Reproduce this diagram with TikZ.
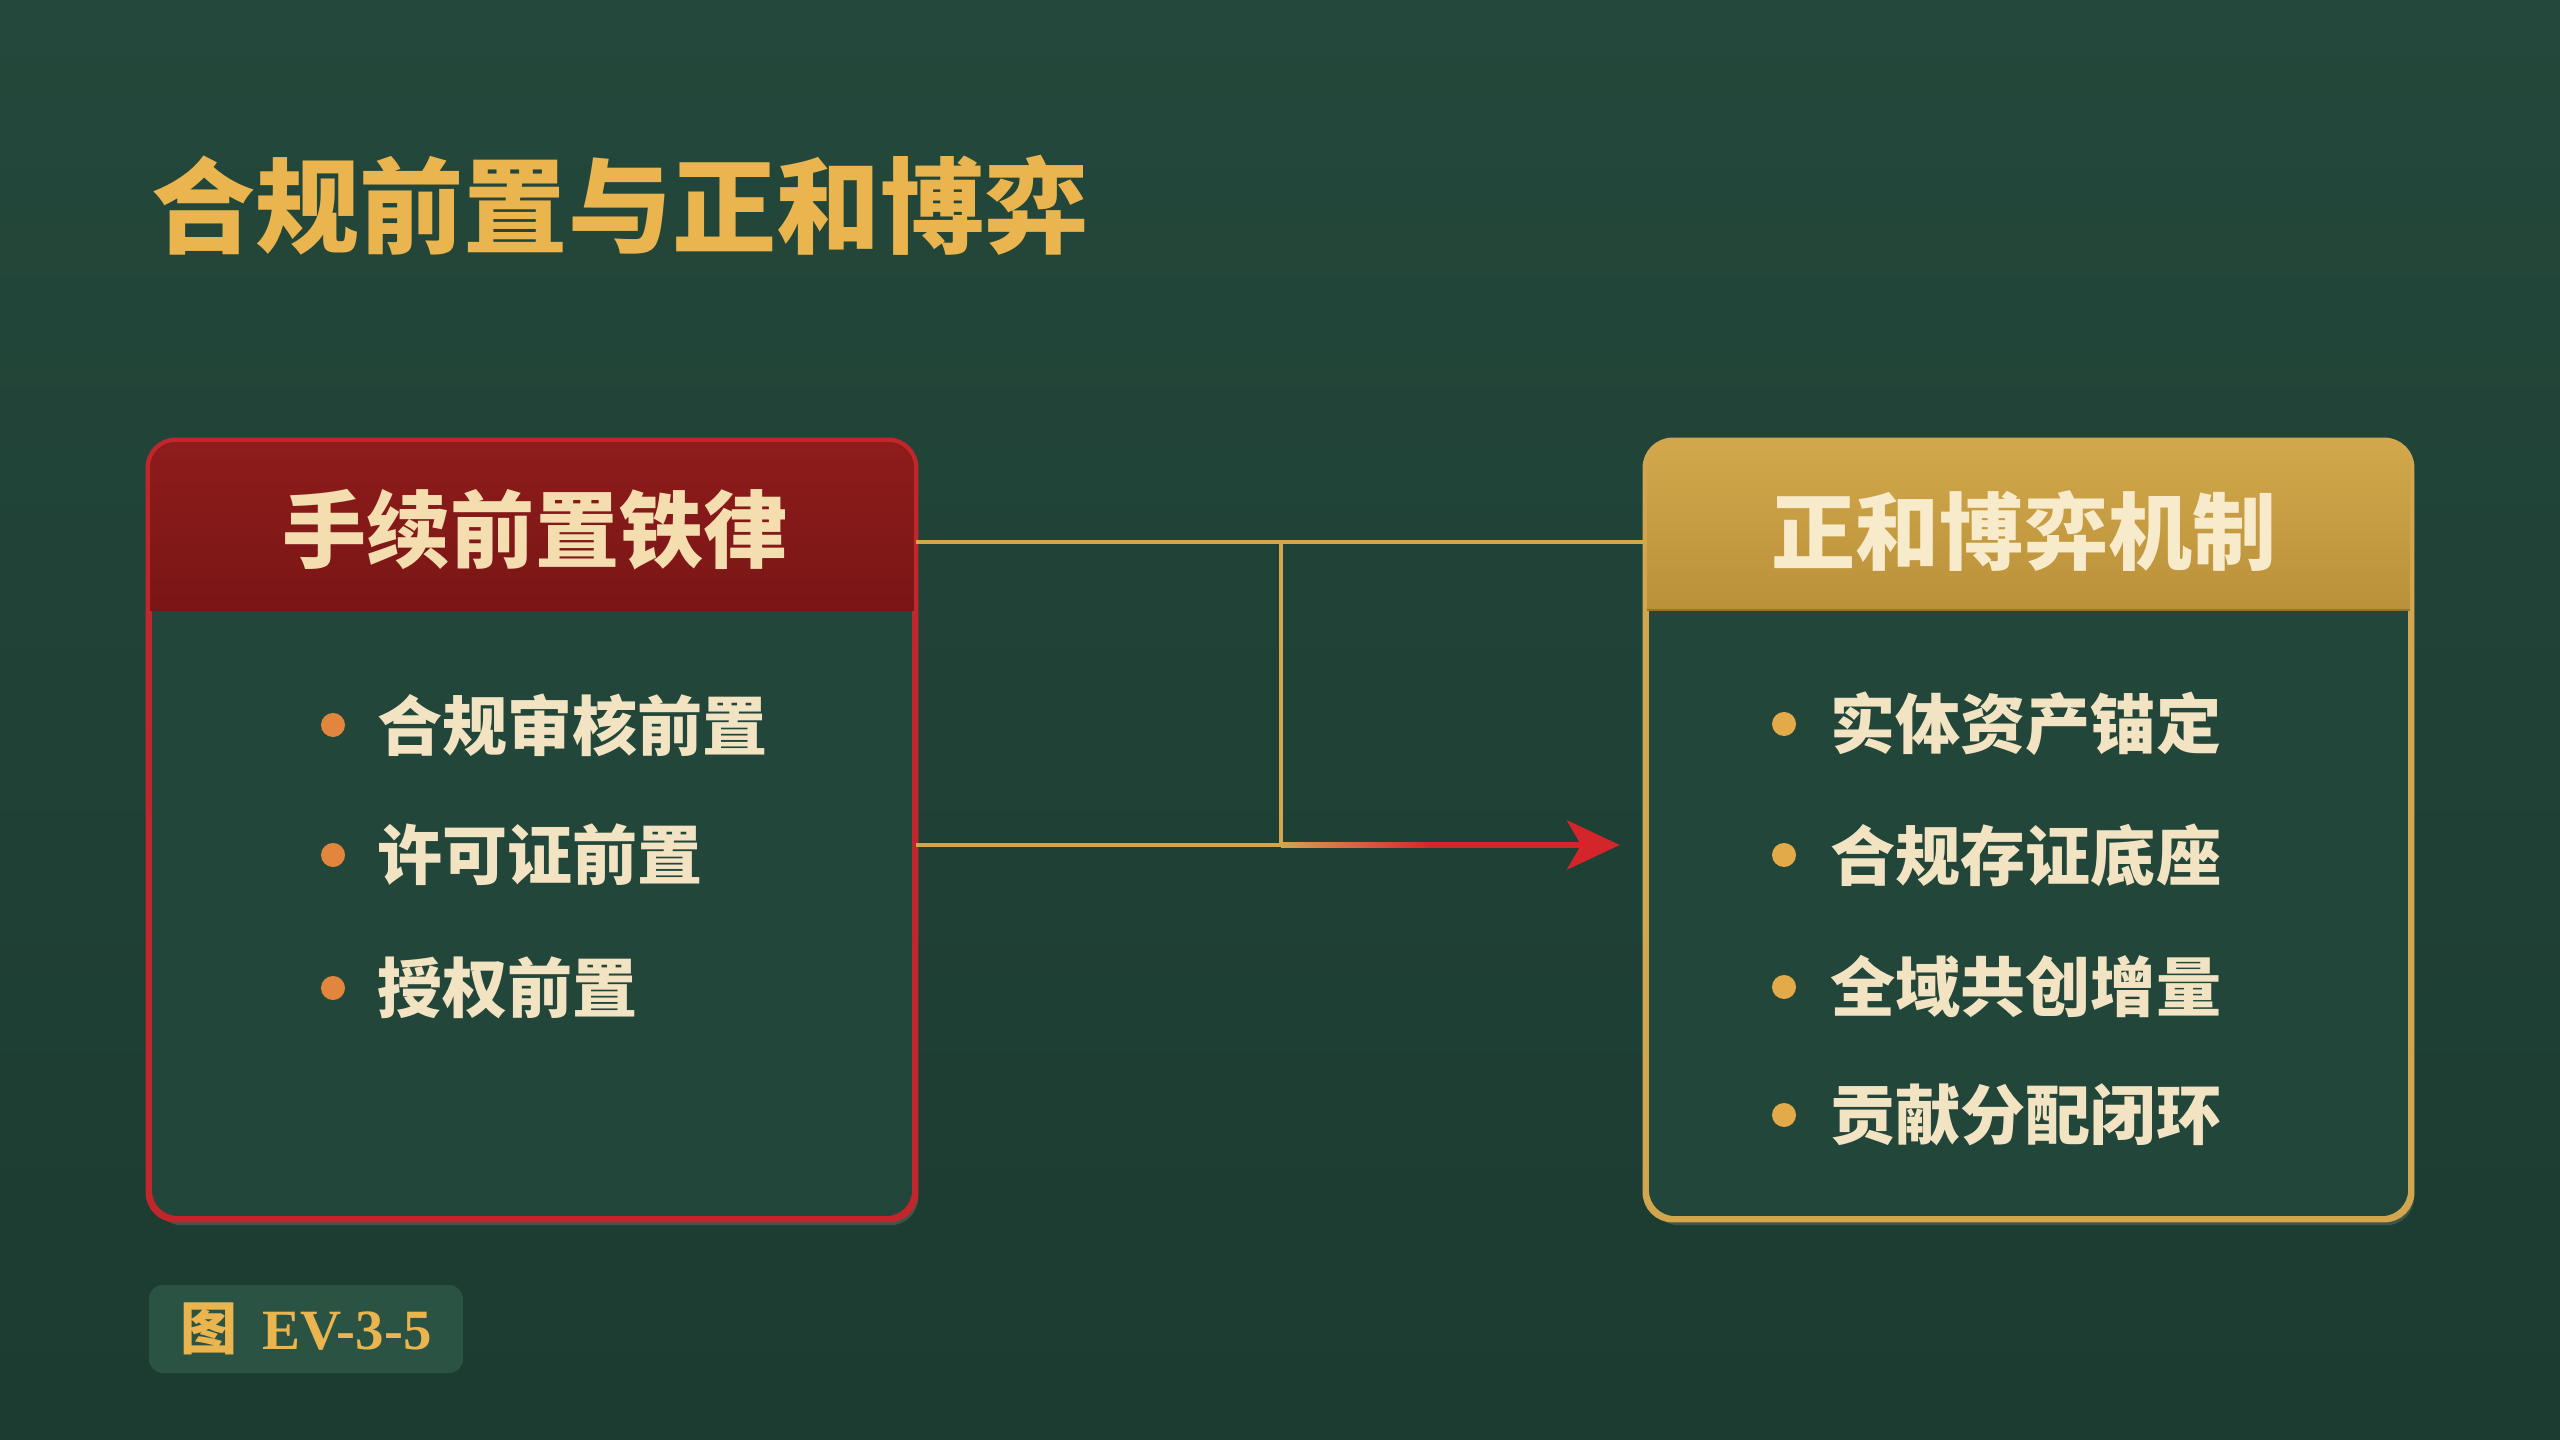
\documentclass[tikz,border=0pt]{standalone}
\usepackage{fontspec}
\newfontfamily\cjk{Noto Sans CJK SC}
\newfontfamily\serifb{Liberation Serif}
\usetikzlibrary{arrows.meta,calc,shadows}
\definecolor{bgA}{HTML}{24483B}
\definecolor{bgB}{HTML}{1C3B31}
\definecolor{bodyG}{HTML}{22463A}
\definecolor{redHead}{HTML}{8E1C1B}
\definecolor{redHeadB}{HTML}{7A1616}
\definecolor{redLine}{HTML}{C0262B}
\definecolor{goldHead}{HTML}{D2A84B}
\definecolor{goldHeadB}{HTML}{BA913A}
\definecolor{goldLine}{HTML}{D2A64C}
\definecolor{titleGold}{HTML}{EAB54E}
\definecolor{cream}{HTML}{F2E3C2}
\definecolor{headCream}{HTML}{F4DDAE}
\definecolor{headCreamR}{HTML}{F8EBCB}
\definecolor{dotOrange}{HTML}{E2863E}
\definecolor{dotGold}{HTML}{E2AA48}
\definecolor{capBox}{HTML}{2A5343}
\definecolor{arrowRed}{HTML}{D4262A}
\tikzset{
  panel/.style={rectangle, rounded corners=0.28cm, minimum width=7.64cm,
    minimum height=7.76cm, inner sep=0pt, line width=1.2pt,
    drop shadow={opacity=0.35, shadow xshift=0.04cm, shadow yshift=-0.07cm}},
  headtxt/.style={inner sep=0pt, font=\cjk\bfseries\fontsize{23.9pt}{26pt}\selectfont},
  titletxt/.style={inner sep=0pt, anchor=west, text=titleGold,
    font=\cjk\bfseries\fontsize{29.6pt}{32pt}\selectfont},
  itemtxt/.style={inner sep=0pt, anchor=west, text=cream,
    font=\cjk\bfseries\fontsize{18.5pt}{20pt}\selectfont},
  dotL/.style={circle, inner sep=0pt, minimum size=0.24cm, fill=dotOrange},
  dotR/.style={circle, inner sep=0pt, minimum size=0.24cm, fill=dotGold},
  goldwire/.style={draw=goldLine, line width=1.3pt},
  redarrow/.style={draw=arrowRed, line width=1.6pt,
    -{Stealth[length=15pt,width=14pt,inset=4pt]}},
  capbox/.style={rectangle, rounded corners=0.14cm, fill=capBox,
    minimum width=3.14cm, minimum height=0.88cm, inner sep=0pt,
    text=titleGold}
}
\begin{document}
\begin{tikzpicture}[x=0.01cm, y=-0.01cm]
\useasboundingbox (0,0) rectangle (2560,1440);
\shade[top color=bgA, bottom color=bgB] (0,0) rectangle (2560,1440);

% title
\node[titletxt] (title) at (151,205) {合规前置与正和博弈};

% left panel
\node[panel, draw=redLine, fill=bodyG] (L) at (532,830) {};
\begin{scope}
  \clip[rounded corners=0.28cm] (L.south west) rectangle (L.north east);
  \shade[top color=redHead, bottom color=redHeadB] (L.north west) rectangle ($(L.north east)+(0,170)$);
\end{scope}
\draw[redLine!60!black, line width=0.6pt] ($(L.north west)+(0,170)$) -- ($(L.north east)+(0,170)$);
\draw[redLine, line width=1.2pt, rounded corners=0.28cm] (L.south west) rectangle (L.north east);
\node[headtxt, text=headCream] (LH) at (535,530) {手续前置铁律};

% right panel
\node[panel, draw=goldLine, fill=bodyG, minimum width=7.63cm] (R) at (2028.5,830) {};
\begin{scope}
  \clip[rounded corners=0.28cm] (R.south west) rectangle (R.north east);
  \shade[top color=goldHead, bottom color=goldHeadB] (R.north west) rectangle ($(R.north east)+(0,170)$);
\end{scope}
\draw[goldLine!70!black, line width=0.6pt] ($(R.north west)+(0,170)$) -- ($(R.north east)+(0,170)$);
\draw[goldLine, line width=1.2pt, rounded corners=0.28cm] (R.south west) rectangle (R.north east);
\node[headtxt, text=headCreamR] (RH) at (2024,531) {正和博弈机制};

% left items
\node[dotL] (ld1) at (333,725) {};
\node[dotL] (ld2) at (333,855) {};
\node[dotL] (ld3) at (333,988) {};
\node[itemtxt] (l1) at (377,725) {合规审核前置};
\node[itemtxt] (l2) at (377,855) {许可证前置};
\node[itemtxt] (l3) at (377,988) {授权前置};

% right items
\node[dotR] (rd1) at (1784,724) {};
\node[dotR] (rd2) at (1784,855) {};
\node[dotR] (rd3) at (1784,987) {};
\node[dotR] (rd4) at (1784,1115) {};
\node[itemtxt] (r1) at (1830,724) {实体资产锚定};
\node[itemtxt] (r2) at (1830,855) {合规存证底座};
\node[itemtxt] (r3) at (1830,987) {全域共创增量};
\node[itemtxt] (r4) at (1830,1115) {贡献分配闭环};

% connectors
\coordinate (J1) at (1281,542);
\coordinate (J2) at (1281,845);
\coordinate (T) at ($(R.west |- J2)+(-25,0)$);
\draw[goldwire] (L.east |- J1) -- (J1) -- (R.west |- J1);
\draw[goldwire] (J1) -- (J2);
\draw[redarrow] (J2) -- (T);
\shade[left color=goldLine, right color=arrowRed] ($(J2)+(0,-2.8)$) rectangle ($(J2)+(150,2.8)$);
\draw[goldwire] (L.east |- J2) -- (J2);

% caption
\node[capbox] (cap) at (306,1329) {{\cjk\bfseries\fontsize{16.2pt}{18pt}\selectfont 图}\hspace{0.25cm}{\serifb\bfseries\fontsize{16.2pt}{18pt}\selectfont EV-3-5}};
\end{tikzpicture}
\end{document}
